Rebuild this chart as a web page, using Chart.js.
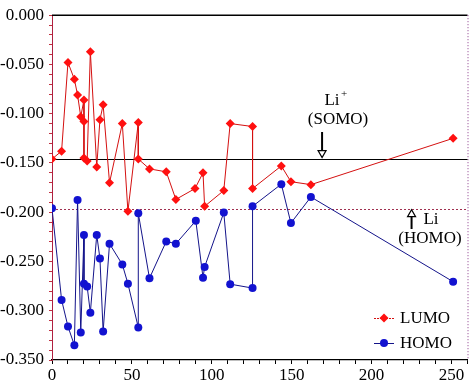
<!DOCTYPE html>
<html>
<head>
<meta charset="utf-8">
<script src="https://cdn.jsdelivr.net/npm/chart.js@4"></script>
<style>
  html, body { margin: 0; padding: 0; background: #fff; }
  #wrap { width: 472px; height: 385px; }
</style>
</head>
<body>
<div id="wrap"><canvas id="chart" width="472" height="385"></canvas></div>
<script>
// values
const lumoX = [0, 6, 10, 14, 16, 18, 20, 20, 20, 22, 24, 28, 30, 32, 36, 44, 47.5, 54, 54, 61, 71.5, 77.5, 89.5, 94.5, 95.5, 107.5, 111.5, 125.5, 125.5, 143.5, 149.5, 162, 251];
const lumoY = [-0.146, -0.138, -0.048, -0.065, -0.081, -0.103, -0.086, -0.108, -0.145, -0.148, -0.037, -0.154, -0.106, -0.091, -0.170, -0.110, -0.199, -0.109, -0.146, -0.156, -0.159, -0.187, -0.176, -0.160, -0.194, -0.178, -0.110, -0.113, -0.176, -0.153, -0.169, -0.172, -0.125];
const homoX = [0, 6, 10, 14, 16, 18, 20, 20, 22, 24, 28, 30, 32, 36, 44, 47.5, 54, 54, 61, 71.5, 77.5, 90, 94.5, 95.5, 107.5, 111.5, 125.5, 125.5, 143.5, 149.5, 162, 251];
const homoY = [-0.196, -0.289, -0.316, -0.335, -0.1875, -0.322, -0.223, -0.2725, -0.2755, -0.302, -0.223, -0.247, -0.321, -0.232, -0.253, -0.2725, -0.317, -0.201, -0.267, -0.2296, -0.232, -0.2087, -0.2665, -0.2555, -0.2004, -0.273, -0.277, -0.194, -0.1715, -0.211, -0.1845, -0.2705];
const liSomo = -0.1456;
const liHomo = -0.1964;
const xLabels = [0, 50, 100, 150, 200, 250];
const yLabels = [0, -0.05, -0.10, -0.15, -0.20, -0.25, -0.30, -0.35];

const serif = "'Liberation Serif', 'Times New Roman', serif";
Chart.defaults.font.family = serif;
const RED = '#d41010';
const BLUE = '#1212d0';

const pts = (xs, ys) => xs.map((x, i) => ({ x: x, y: ys[i] }));

function arrow(ctx, x, y1, y2) {
  // shaft from y1 to y2, open triangle head at y2
  const dir = y2 > y1 ? 1 : -1;
  ctx.beginPath();
  ctx.moveTo(x, y1);
  ctx.lineTo(x, y2 - dir * 6);
  ctx.lineWidth = 2;
  ctx.stroke();
  ctx.beginPath();
  ctx.moveTo(x - 4, y2 - dir * 7);
  ctx.lineTo(x + 4, y2 - dir * 7);
  ctx.lineTo(x, y2);
  ctx.closePath();
  ctx.fillStyle = '#fff';
  ctx.fill();
  ctx.lineWidth = 1.2;
  ctx.stroke();
}

const extras = {
  id: 'extras',
  beforeDatasetsDraw(chart) {
    const { ctx, chartArea: a, scales: { x, y } } = chart;
    ctx.save();
    // top line and right border
    ctx.strokeStyle = '#000';
    ctx.lineWidth = 1.5;
    ctx.beginPath();
    ctx.moveTo(a.left, a.top);
    ctx.lineTo(a.right, a.top);
    ctx.stroke();
    ctx.strokeStyle = '#8a3a8a';
    ctx.lineWidth = 1;
    ctx.setLineDash([1, 2]);
    ctx.beginPath();
    ctx.moveTo(a.right + 0.5, a.top);
    ctx.lineTo(a.right + 0.5, a.bottom);
    ctx.stroke();
    // Li HOMO level
    const yh = Math.round(y.getPixelForValue(liHomo)) + 0.5;
    ctx.strokeStyle = '#a03050';
    ctx.setLineDash([2, 2]);
    ctx.beginPath();
    ctx.moveTo(a.left, yh);
    ctx.lineTo(a.right, yh);
    ctx.stroke();
    ctx.setLineDash([]);
    // Li+ SOMO level
    const ys = Math.round(y.getPixelForValue(liSomo)) + 0.5;
    ctx.strokeStyle = '#000';
    ctx.lineWidth = 1.2;
    ctx.beginPath();
    ctx.moveTo(a.left, ys);
    ctx.lineTo(a.right, ys);
    ctx.stroke();
    ctx.restore();
  },
  afterDraw(chart) {
    const { ctx, scales: { x, y } } = chart;
    ctx.save();
    ctx.fillStyle = '#000';
    ctx.strokeStyle = '#000';
    ctx.font = '17px ' + serif;
    ctx.textBaseline = 'middle';
    ctx.textAlign = 'center';

    // Li+ (SOMO)
    const ys = y.getPixelForValue(liSomo);
    const xs = x.getPixelForValue(169);
    ctx.fillText('Li', 332, 101);
    ctx.font = '11px ' + serif;
    ctx.fillText('+', 344, 94);
    ctx.font = '17px ' + serif;
    ctx.fillText('(SOMO)', 338, 120);
    arrow(ctx, xs, 132, ys - 1);

    // Li (HOMO)
    const yh = y.getPixelForValue(liHomo);
    const xh = x.getPixelForValue(225);
    ctx.fillStyle = '#000';
    ctx.fillText('Li', 431, 220);
    ctx.fillText('(HOMO)', 430, 239);
    arrow(ctx, xh, 229, yh + 1);

    // legend
    const sets = chart.data.datasets;
    const rows = [318, 343];
    sets.forEach((ds, i) => {
      const ry = rows[i];
      ctx.strokeStyle = ds.borderColor;
      ctx.lineWidth = 1;
      ctx.setLineDash(i === 0 ? [2, 1] : []);
      ctx.beginPath();
      ctx.moveTo(374, ry + 0.5);
      ctx.lineTo(394, ry + 0.5);
      ctx.stroke();
      ctx.setLineDash([]);
      ctx.fillStyle = ds.pointBackgroundColor;
      ctx.beginPath();
      if (ds.pointStyle === 'rectRot') {
        ctx.moveTo(384, ry - 4.5);
        ctx.lineTo(388.5, ry);
        ctx.lineTo(384, ry + 4.5);
        ctx.lineTo(379.5, ry);
        ctx.closePath();
      } else {
        ctx.arc(384, ry, 4, 0, Math.PI * 2);
      }
      ctx.fill();
      ctx.fillStyle = '#000';
      ctx.textAlign = 'left';
      ctx.font = '17px ' + serif;
      ctx.fillText(ds.label, 400, ry + 1);
    });
    ctx.restore();
  }
};

new Chart(document.getElementById('chart'), {
  type: 'scatter',
  data: {
    datasets: [
      {
        label: 'LUMO',
        data: pts(lumoX, lumoY),
        showLine: true,
        borderColor: RED,
        borderWidth: 1,
        pointStyle: 'rectRot',
        pointRadius: 4.5,
        pointBackgroundColor: '#ff1010',
        pointBorderColor: '#ff1010',
        pointBorderWidth: 0,
      },
      {
        label: 'HOMO',
        data: pts(homoX, homoY),
        showLine: true,
        borderColor: '#14148a',
        borderWidth: 1,
        pointStyle: 'circle',
        pointRadius: 4,
        pointBackgroundColor: BLUE,
        pointBorderColor: BLUE,
        pointBorderWidth: 0,
      }
    ]
  },
  options: {
    responsive: false,
    animation: false,
    layout: { padding: { top: 9, right: 4, left: 0, bottom: 0 } },
    plugins: { legend: { display: false }, tooltip: { enabled: false } },
    scales: {
      x: {
        type: 'linear',
        min: 0,
        max: 260,
        afterFit: s => { s.height = 25; },
        border: { color: '#000', width: 1.2 },
        grid: { drawOnChartArea: false, drawTicks: true, tickLength: 4, color: '#000' },
        ticks: {
          stepSize: 10,
          autoSkip: false,
          maxRotation: 0,
          padding: 1,
          color: '#000',
          font: { family: serif, size: 17 },
          callback: v => xLabels.includes(v) ? String(v) : ''
        }
      },
      y: {
        type: 'linear',
        min: -0.35,
        max: 0,
        afterFit: s => { s.width = 52; },
        border: { color: '#b02040', width: 1, dash: [1, 2] },
        grid: { drawOnChartArea: false, drawTicks: true, tickLength: 3, color: '#c03040' },
        ticks: {
          stepSize: 0.01,
          autoSkip: false,
          padding: 5,
          color: '#000',
          font: { family: serif, size: 17 },
          callback: v => {
            const m = Math.round(v * 1000);
            return yLabels.some(l => Math.round(l * 1000) === m) ? (m / 1000).toFixed(3) : '';
          }
        }
      }
    }
  },
  plugins: [extras]
});
</script>
</body>
</html>
